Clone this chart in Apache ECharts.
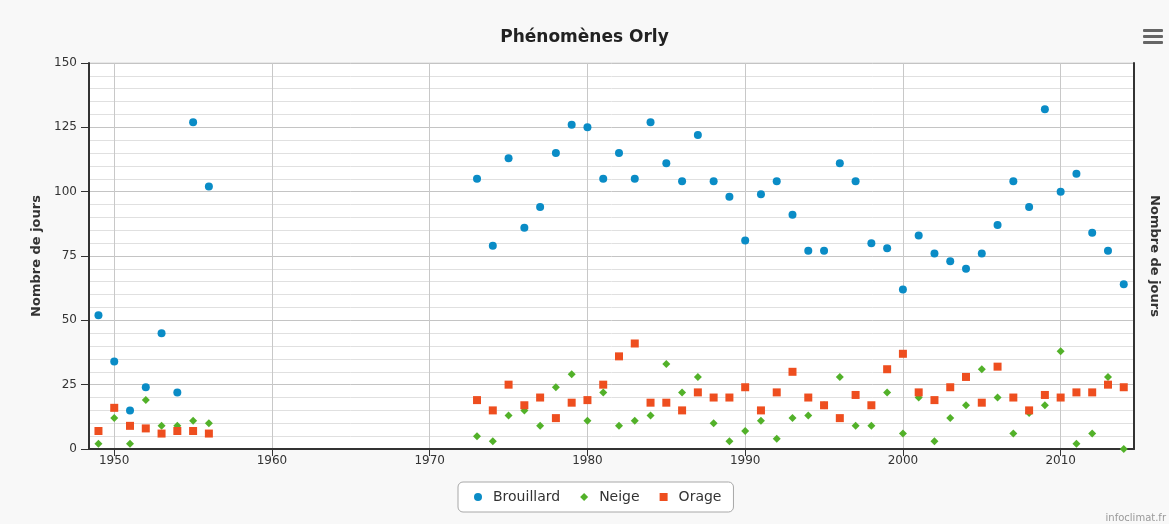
<!DOCTYPE html>
<html>
<head>
<meta charset="utf-8">
<script src="https://cdn.jsdelivr.net/npm/echarts@6/dist/echarts.min.js"></script>
<style>
html,body{margin:0;padding:0;background:#f8f8f8;}
#main{width:1169px;height:524px;}
</style>
</head>
<body>
<div id="main"></div>
<script>
const years = [1949,1950,1951,1952,1953,1954,1955,1956,
  1973,1974,1975,1976,1977,1978,1979,1980,1981,1982,1983,1984,1985,1986,1987,1988,1989,1990,
  1991,1992,1993,1994,1995,1996,1997,1998,1999,2000,2001,2002,2003,2004,2005,2006,2007,2008,2009,2010,
  2011,2012,2013,2014];
const brouillard = [52,34,15,24,45,22,127,102,
  105,79,113,86,94,115,126,125,105,115,105,127,111,104,122,104,98,81,
  99,104,91,77,77,111,104,80,78,62,83,76,73,70,76,87,104,94,132,100,
  107,84,77,64];
const neige = [2,12,2,19,9,9,11,10,
  5,3,13,15,9,24,29,11,22,9,11,13,33,22,28,10,3,7,
  11,4,12,13,17,28,9,9,22,6,20,3,12,17,31,20,6,14,17,38,
  2,6,28,0];
const orage = [7,16,9,8,6,7,7,6,
  19,15,25,17,20,12,18,19,25,36,41,18,18,15,22,20,20,24,
  15,22,30,20,17,12,21,17,31,37,22,19,24,28,18,32,20,15,21,20,
  22,22,25,24];
const decadeTicks = [1950,1960,1970,1980,1990,2000,2010];
const seriesNames = ['Brouillard','Neige','Orage'];

const pair = arr => years.map((y,i)=>[y,arr[i]]);
const font = '"DejaVu Sans", Verdana, sans-serif';

const chart = echarts.init(document.getElementById('main'));
chart.setOption({
  backgroundColor:'#f8f8f8',
  animation:false,
  title:{
    text:'Phénomènes Orly', left:'center', top:24,
    textStyle:{fontFamily:font, fontSize:17, fontWeight:'bold', color:'#222'}
  },
  legend:{
    data:seriesNames, bottom:12, left:458,
    backgroundColor:'#fff', borderColor:'#a8a8a8', borderWidth:1, borderRadius:5,
    padding:[8,12,8,16], itemGap:20, itemWidth:8, itemHeight:8,
    textStyle:{fontFamily:font, fontSize:14, color:'#333', padding:[0,0,0,6]}
  },
  grid:{left:89, right:35, top:63, bottom:75, show:true, backgroundColor:'#fff', borderColor:'#d8d8d8', borderWidth:1},
  xAxis:{
    type:'value', min:1948.4, max:2014.65,
    axisLine:{show:true, onZero:false, lineStyle:{color:'#333', width:2}},
    axisTick:{show:true, length:7, customValues:decadeTicks, lineStyle:{color:'#333'}},
    axisLabel:{customValues:decadeTicks, formatter:v=>String(v), fontFamily:font, fontSize:12, color:'#333', margin:6},
    splitLine:{show:true, lineStyle:{color:'#c8c8c8', width:1}}
  },
  yAxis:[{
    type:'value', min:0, max:150, interval:25,
    name:'Nombre de jours', nameLocation:'middle', nameGap:46,
    nameTextStyle:{fontFamily:font, fontSize:13, fontWeight:'bold', color:'#333'},
    axisLine:{show:true, lineStyle:{color:'#333', width:2}},
    axisTick:{show:true, length:8, lineStyle:{color:'#333'}},
    axisLabel:{fontFamily:font, fontSize:12, color:'#333', margin:12},
    splitLine:{show:true, lineStyle:{color:'#c4c4c4'}},
    minorTick:{show:false, splitNumber:5},
    minorSplitLine:{show:true, lineStyle:{color:'#e0e0e0'}}
  },{
    type:'value', min:0, max:150, interval:25, position:'right',
    name:'Nombre de jours', nameLocation:'middle', nameGap:14, nameRotate:-90,
    nameTextStyle:{fontFamily:font, fontSize:13, fontWeight:'bold', color:'#333'},
    axisLine:{show:true, lineStyle:{color:'#333', width:2}},
    axisTick:{show:false}, axisLabel:{show:false}, splitLine:{show:false}
  }],
  series:[
    {name:seriesNames[0], type:'scatter', symbol:'circle', symbolSize:8, data:pair(brouillard),
     itemStyle:{color:'#0a8cc6', opacity:1}},
    {name:seriesNames[1], type:'scatter', symbol:'diamond', symbolSize:8, data:pair(neige),
     itemStyle:{color:'#52b129', opacity:1}},
    {name:seriesNames[2], type:'scatter', symbol:'rect', symbolSize:8, data:pair(orage),
     itemStyle:{color:'#ee4e1f', opacity:1}}
  ],
  graphic:[
    {type:'rect', shape:{x:1143, y:29, width:20, height:3, r:1}, style:{fill:'#666'}},
    {type:'rect', shape:{x:1143, y:35, width:20, height:3, r:1}, style:{fill:'#666'}},
    {type:'rect', shape:{x:1143, y:41, width:20, height:3, r:1}, style:{fill:'#666'}},
    {type:'text', right:3, bottom:1, style:{text:'infoclimat.fr', fontFamily:font, fontSize:10, fill:'#999'}}
  ]
});
</script>
</body>
</html>
